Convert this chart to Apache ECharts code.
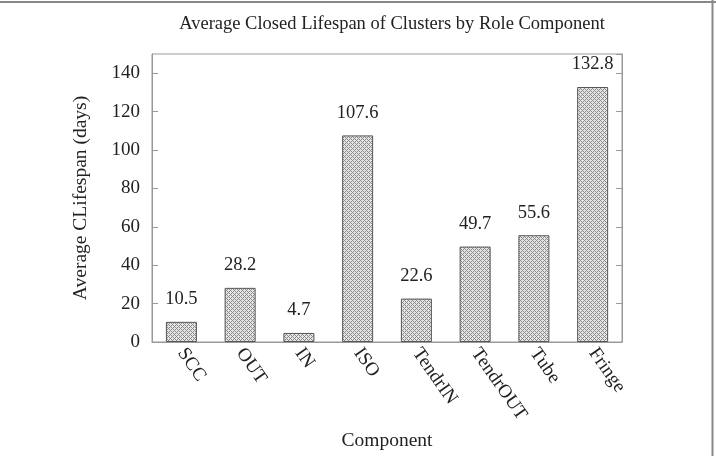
<!DOCTYPE html>
<html><head><meta charset="utf-8">
<script src="https://cdn.jsdelivr.net/npm/echarts@6/dist/echarts.min.js"></script>
<style>html,body{margin:0;padding:0;background:#fff}#c{width:716px;height:456px}</style>
</head><body><div id="c"></div>
<script>
var categories = ['SCC','OUT','IN','ISO','TendrIN','TendrOUT','Tube','Fringe'];
var values = [10.5, 28.2, 4.7, 107.6, 22.6, 49.7, 55.6, 132.8];
var titleText = 'Average Closed Lifespan of Clusters by Role Component';
var xName = 'Component';
var yName = 'Average CLifespan (days)';

var pc = document.createElement('canvas');
pc.width = 4; pc.height = 4;
var ctx = pc.getContext('2d');
ctx.fillStyle = '#e6e6e6'; ctx.fillRect(0,0,4,4);
ctx.fillStyle = '#8a8a8a';
for (var x=0;x<4;x++) for (var y=0;y<4;y++) {
  if ((x+y)%4===0 || ((x-y)+8)%4===0) ctx.fillRect(x,y,1,1);
}
var font = 'Liberation Serif';
var chart = echarts.init(document.getElementById('c'), null, {renderer:'canvas'});
chart.setOption({
  animation:false,
  backgroundColor:'#fff',
  title:{text:titleText, left:387, top:10, textAlign:'center',
    textStyle:{fontFamily:font, fontWeight:'normal', fontSize:18.5, color:'#222'}},
  grid:{left:152, right:94, top:54, bottom:108, show:true, borderColor:'#999', borderWidth:1},
  xAxis:{type:'category', data:categories, name:xName, nameLocation:'middle', nameGap:89,
    nameTextStyle:{fontFamily:font, fontSize:19.5, color:'#222'},
    axisLine:{lineStyle:{color:'#999'}}, axisTick:{show:false},
    axisLabel:{rotate:-55, fontFamily:font, fontSize:19, color:'#222', margin:8, interval:0}},
  yAxis:[{type:'value', min:0, max:150, interval:20, name:yName, nameLocation:'middle', nameGap:61,
    nameTextStyle:{fontFamily:font, fontSize:19.5, color:'#222'},
    axisLine:{show:true, lineStyle:{color:'#999'}},
    axisTick:{show:true, inside:true, length:6, lineStyle:{color:'#999'}},
    splitLine:{show:false},
    axisLabel:{fontFamily:font, fontSize:19, color:'#222', margin:12, showMaxLabel:false,
      formatter:function(v){return v>140?'':v;}}},
   {type:'value', min:0, max:150, interval:20, position:'right',
    axisLine:{show:true, lineStyle:{color:'#999'}},
    axisTick:{show:true, inside:true, length:6, lineStyle:{color:'#999'}},
    splitLine:{show:false}, axisLabel:{show:false}}],
  graphic:[
    {type:'line', shape:{x1:0,y1:2,x2:716,y2:2}, style:{stroke:'#888', lineWidth:2}},
    {type:'line', shape:{x1:712.5,y1:0,x2:712.5,y2:456}, style:{stroke:'#888', lineWidth:2}}
  ],
  series:[{type:'bar', data:values, barWidth:31,
    itemStyle:{color:{image:pc, repeat:'repeat'}, borderColor:'#555', borderWidth:1},
    label:{show:true, position:'top', distance:13, fontFamily:font, fontSize:18.5, color:'#222'}}]
});
</script></body></html>
